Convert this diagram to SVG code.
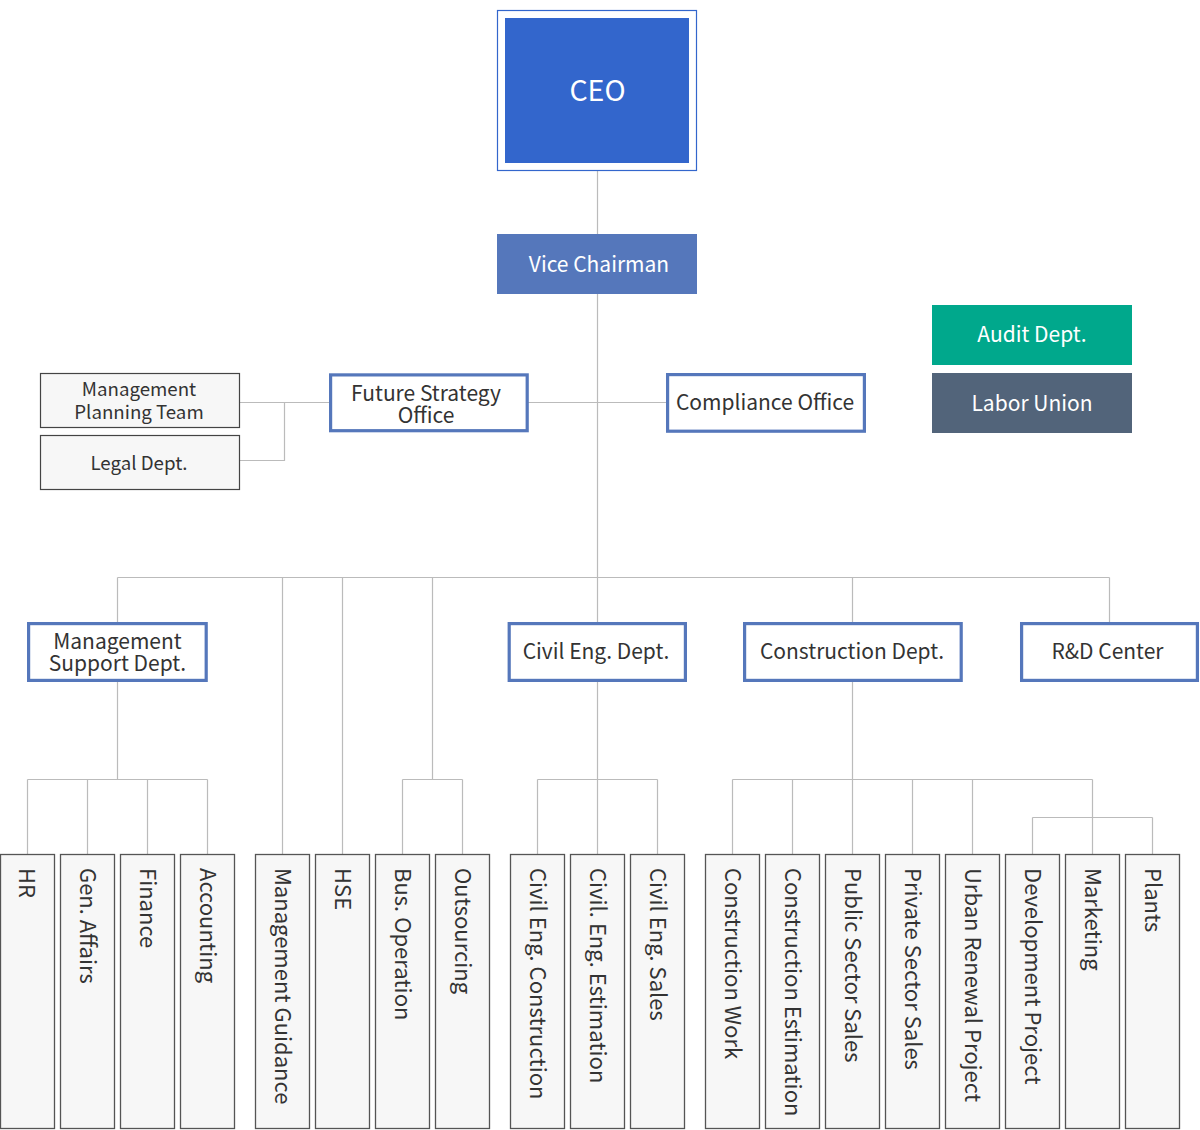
<svg xmlns="http://www.w3.org/2000/svg" width="1200" height="1130" viewBox="0 0 1200 1130">
<style>
text{font-family:"Noto Sans CJK KR","Liberation Sans",sans-serif;}
.c{stroke:#bbbbbb;stroke-width:1.2;fill:none;}
.mid{fill:#ffffff;stroke:#5577bb;stroke-width:3.2;}
.mt{font-size:21px;fill:#333333;text-anchor:middle;}
.side{fill:#f7f7f7;stroke:#444444;stroke-width:1.2;}
.st{font-size:18.7px;fill:#333333;text-anchor:middle;}
.bot{fill:#f7f7f7;stroke:#555555;stroke-width:1.3;}
.v{font-size:22px;fill:#333333;}
.wt{fill:#ffffff;text-anchor:middle;}
</style>
<rect width="1200" height="1130" fill="#ffffff"/>
<g id="connectors">
<path class="c" d="M597.5 170V622"/>
<path class="c" d="M240 402.5H667"/>
<path class="c" d="M284.5 402.5V460.5H240"/>
<path class="c" d="M117.5 577.5H1109.5"/>
<path class="c" d="M117.5 577.5V622M282.5 577.5V854M342.5 577.5V854M432.5 577.5V779.5M852.5 577.5V622M1109.5 577.5V622"/>
<path class="c" d="M117.5 682V779.5M27.5 779.5H207.5M27.5 779.5V854M87.5 779.5V854M147.5 779.5V854M207.5 779.5V854"/>
<path class="c" d="M402.5 779.5H462.5M402.5 779.5V854M462.5 779.5V854"/>
<path class="c" d="M597.5 682V854M537.5 779.5H657.5M537.5 779.5V854M657.5 779.5V854"/>
<path class="c" d="M852.5 682V854M732.5 779.5H1092.5M732.5 779.5V854M792.5 779.5V854M912.5 779.5V854M972.5 779.5V854M1092.5 779.5V854M1032.5 817.5H1152.5M1032.5 817.5V854M1152.5 817.5V854"/>
</g>
<g id="ceo">
<rect x="497.5" y="10.5" width="199" height="160" fill="#ffffff" stroke="#3366cc" stroke-width="1.2"/>
<rect x="505" y="18" width="184" height="145" fill="#3366cc"/>
<text class="wt" x="597.5" y="100.5" font-size="28.5">CEO</text>
</g>
<g id="vice-chairman">
<rect x="497" y="234" width="200" height="60" fill="#5577bb"/>
<text class="wt" x="599" y="271.5" font-size="21">Vice Chairman</text>
</g>
<g id="audit">
<rect x="932" y="305" width="200" height="60" fill="#00a88c"/>
<text class="wt" x="1032" y="342" font-size="21">Audit Dept.</text>
</g>
<g id="labor-union">
<rect x="932" y="373" width="200" height="60" fill="#52647a"/>
<text class="wt" x="1032" y="410.5" font-size="21">Labor Union</text>
</g>
<g id="mgmt-planning">
<rect class="side" x="40.5" y="373.5" width="199" height="54"/>
<text class="st"><tspan x="139" y="396">Management</tspan><tspan x="139" y="418.5">Planning Team</tspan></text>
</g>
<g id="legal">
<rect class="side" x="40.5" y="435.5" width="199" height="54"/>
<text class="st" x="139" y="469.5">Legal Dept.</text>
</g>
<g id="future-strategy">
<rect class="mid" x="330.6" y="374.9" width="196.6" height="55.8"/>
<text class="mt"><tspan x="426" y="400.5">Future Strategy</tspan><tspan x="426" y="422.5">Office</tspan></text>
</g>
<g id="compliance">
<rect class="mid" x="667.6" y="374.6" width="196.8" height="56.6"/>
<text class="mt" x="765" y="409.5">Compliance Office</text>
</g>
<g id="mgmt-support">
<rect class="mid" x="28.6" y="623.6" width="177.6" height="56.8"/>
<text class="mt"><tspan x="117.5" y="648.5">Management</tspan><tspan x="117.5" y="671">Support Dept.</tspan></text>
</g>
<g id="civil-eng">
<rect class="mid" x="509.2" y="623.6" width="176.2" height="56.8"/>
<text class="mt" x="596" y="659">Civil Eng. Dept.</text>
</g>
<g id="construction">
<rect class="mid" x="744.6" y="623.6" width="216.6" height="56.8"/>
<text class="mt" x="852" y="659">Construction Dept.</text>
</g>
<g id="rnd">
<rect class="mid" x="1021.6" y="623.6" width="175.8" height="56.8"/>
<text class="mt" x="1107.5" y="659">R&amp;D Center</text>
</g>
<g id="hr"><rect class="bot" x="0.5" y="854.5" width="54" height="274"/><text class="v" transform="translate(19,868) rotate(90)">HR</text></g>
<g id="gen-affairs"><rect class="bot" x="60.5" y="854.5" width="54" height="274"/><text class="v" transform="translate(79.5,868) rotate(90)">Gen. Affairs</text></g>
<g id="finance"><rect class="bot" x="120.5" y="854.5" width="54" height="274"/><text class="v" transform="translate(139.5,868) rotate(90)">Finance</text></g>
<g id="accounting"><rect class="bot" x="180.5" y="854.5" width="54" height="274"/><text class="v" transform="translate(199.5,868) rotate(90)">Accounting</text></g>
<g id="mgmt-guidance"><rect class="bot" x="255.5" y="854.5" width="54" height="274"/><text class="v" transform="translate(274.5,868) rotate(90)">Management Guidance</text></g>
<g id="hse"><rect class="bot" x="315.5" y="854.5" width="54" height="274"/><text class="v" transform="translate(334.5,868) rotate(90)">HSE</text></g>
<g id="bus-operation"><rect class="bot" x="375.5" y="854.5" width="54" height="274"/><text class="v" transform="translate(394.5,868) rotate(90)">Bus. Operation</text></g>
<g id="outsourcing"><rect class="bot" x="435.5" y="854.5" width="54" height="274"/><text class="v" transform="translate(454.5,868) rotate(90)">Outsourcing</text></g>
<g id="civil-construction"><rect class="bot" x="510.5" y="854.5" width="54" height="274"/><text class="v" transform="translate(529.5,868) rotate(90)">Civil Eng. Construction</text></g>
<g id="civil-estimation"><rect class="bot" x="570.5" y="854.5" width="54" height="274"/><text class="v" transform="translate(589.5,868) rotate(90)">Civil. Eng. Estimation</text></g>
<g id="civil-sales"><rect class="bot" x="630.5" y="854.5" width="54" height="274"/><text class="v" transform="translate(649.5,868) rotate(90)">Civil Eng. Sales</text></g>
<g id="construction-work"><rect class="bot" x="705.5" y="854.5" width="54" height="274"/><text class="v" transform="translate(724.5,868) rotate(90)">Construction Work</text></g>
<g id="construction-estimation"><rect class="bot" x="765.5" y="854.5" width="54" height="274"/><text class="v" transform="translate(784.5,868) rotate(90)">Construction Estimation</text></g>
<g id="public-sales"><rect class="bot" x="825.5" y="854.5" width="54" height="274"/><text class="v" transform="translate(844.5,868) rotate(90)">Public Sector Sales</text></g>
<g id="private-sales"><rect class="bot" x="885.5" y="854.5" width="54" height="274"/><text class="v" transform="translate(904.5,868) rotate(90)">Private Sector Sales</text></g>
<g id="urban-renewal"><rect class="bot" x="945.5" y="854.5" width="54" height="274"/><text class="v" transform="translate(964.5,868) rotate(90)">Urban Renewal Project</text></g>
<g id="development"><rect class="bot" x="1005.5" y="854.5" width="54" height="274"/><text class="v" transform="translate(1024.5,868) rotate(90)">Development Project</text></g>
<g id="marketing"><rect class="bot" x="1065.5" y="854.5" width="54" height="274"/><text class="v" transform="translate(1084.5,868) rotate(90)">Marketing</text></g>
<g id="plants"><rect class="bot" x="1125.5" y="854.5" width="54" height="274"/><text class="v" transform="translate(1144.5,868) rotate(90)">Plants</text></g>
</svg>
